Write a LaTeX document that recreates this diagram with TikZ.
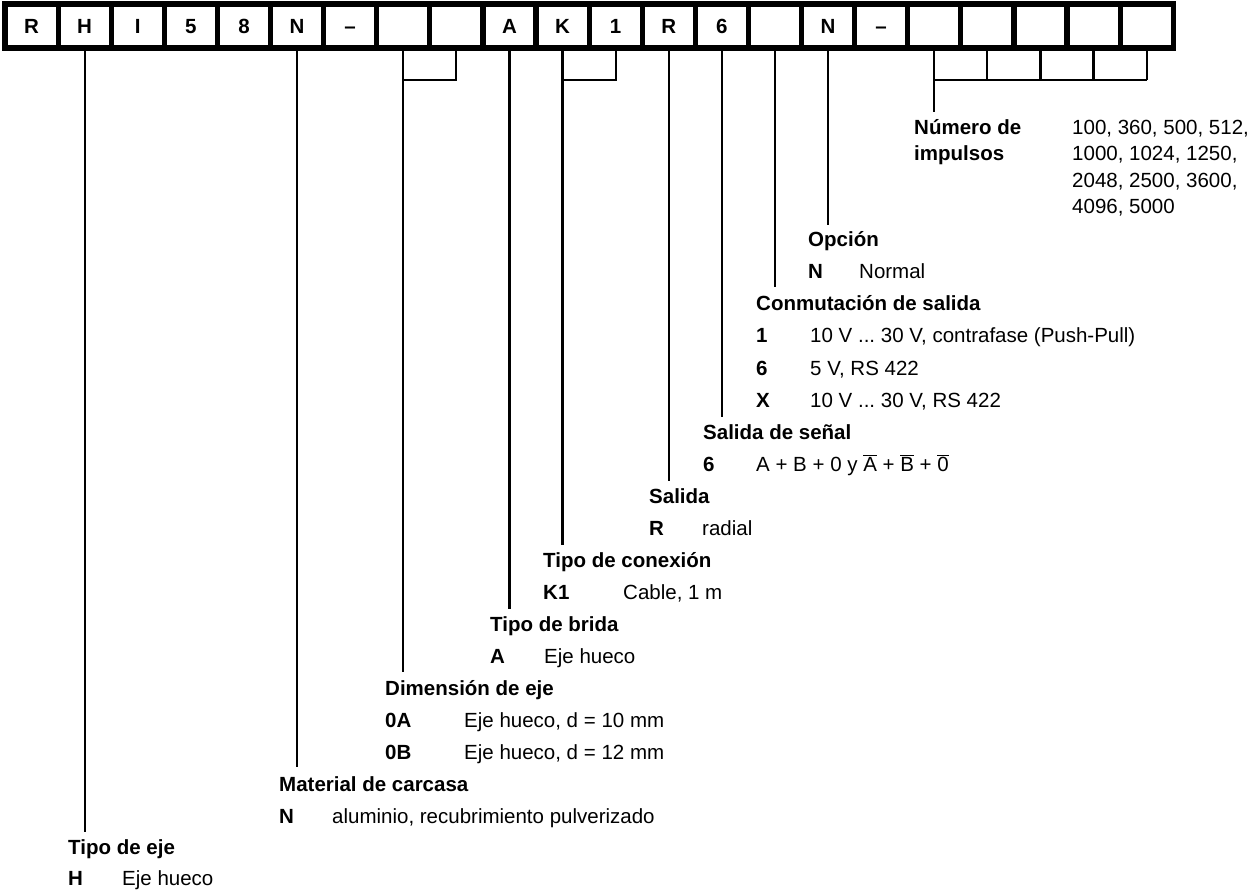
\documentclass[tikz,border=0pt]{standalone}
\usepackage{fontspec}
\setmainfont{Liberation Sans}
\frenchspacing
\newcommand{\ovl}[1]{$\overline{\hbox{#1}}$}
\begin{document}
\begin{tikzpicture}[x=1pt,y=-1pt,
  cell/.style={draw, line width=5.2pt, minimum width=53.1pt, minimum height=44pt, inner sep=0pt,
    font=\fontsize{20.5}{24}\selectfont\bfseries, text height=14.7pt, text depth=0pt},
  txt/.style={anchor=base west, inner sep=0pt, font=\fontsize{20.5}{24}\selectfont\frenchspacing},
  hd/.style={anchor=base west, inner sep=0pt, font=\fontsize{20.5}{24}\selectfont\bfseries},
  conn/.style={line width=2.2pt}]
\useasboundingbox (0,0) rectangle (1250,890);
% code boxes
\foreach \t [count=\i from 0] in {R,H,I,5,8,N,–,{},{},A,K,1,R,6,{},N,–,{},{},{},{},{}}
  \node[cell] (c\i) at ({5+53.1*(\i+0.5)},26) {\t};
% connector end points
\coordinate (e1)  at ({5+53.1*1.5},832);
\coordinate (e5)  at ({5+53.1*5.5},767);
\coordinate (b7)  at ({5+53.1*7.5},80);
\coordinate (b8)  at ({5+53.1*8.5},80);
\coordinate (e7)  at ({5+53.1*7.5},672);
\coordinate (e9)  at ({5+53.1*9.5},609);
\coordinate (b10) at ({5+53.1*10.5},80);
\coordinate (b11) at ({5+53.1*11.5},80);
\coordinate (e10) at ({5+53.1*10.5},545);
\coordinate (e12) at ({5+53.1*12.5},481);
\coordinate (e13) at ({5+53.1*13.5},417);
\coordinate (e14) at ({5+53.1*14.5},287);
\coordinate (e15) at ({5+53.1*15.5},225);
\foreach \k in {17,...,21} \coordinate (b\k) at ({5+53.1*(\k+0.5)},80);
\coordinate (e17) at ({5+53.1*17.5},112);
% connectors
\draw[conn] (c1.south) -- (e1);
\draw[conn] (c5.south) -- (e5);
\draw[conn] (c8.south) -- (b8) -- (b7);
\draw[conn] (c7.south) -- (e7);
\draw[conn] (c9.south) -- (e9);
\draw[conn] (c11.south) -- (b11) -- (b10);
\draw[conn] (c10.south) -- (e10);
\draw[conn] (c12.south) -- (e12);
\draw[conn] (c13.south) -- (e13);
\draw[conn] (c14.south) -- (e14);
\draw[conn] (c15.south) -- (e15);
\foreach \k in {18,...,21} \draw[conn] (c\k.south) -- (b\k);
\draw[conn] (b21) -- (b17);
\draw[conn] (c17.south) -- (e17);
% Numero de impulsos
\node[hd] (ni1) at (914,134.5) {Número de};
\node[hd] (ni2) at (914,161) {impulsos};
\node[txt] (niv1) at (1072,134.5) {100, 360, 500, 512,};
\node[txt] (niv2) at (1072,161) {1000, 1024, 1250,};
\node[txt] (niv3) at (1072,187.5) {2048, 2500, 3600,};
\node[txt] (niv4) at (1072,214) {4096, 5000};
% Opcion
\node[hd] (op) at (808,247) {Opción};
\node[hd] (opN) at (808,279) {N};
\node[txt] (opNv) at (859,279) {Normal};
% Conmutacion
\node[hd] (cs) at (756,311) {Conmutación de salida};
\node[hd] (cs1) at (756,343) {1};
\node[txt] (cs1v) at (810,343) {10 V ... 30 V, contrafase (Push-Pull)};
\node[hd] (cs6) at (756,375) {6};
\node[txt] (cs6v) at (810,375) {5 V, RS 422};
\node[hd] (csX) at (756,407) {X};
\node[txt] (csXv) at (810,407) {10 V ... 30 V, RS 422};
% Salida de senal
\node[hd] (ss) at (703,439) {Salida de señal};
\node[hd] (ss6) at (703,471) {6};
\node[txt] (ss6v) at (756,471) {A + B + 0 y \ovl{A} + \ovl{B} + \ovl{0}};
% Salida
\node[hd] (sa) at (649,503) {Salida};
\node[hd] (saR) at (649,535) {R};
\node[txt] (saRv) at (702,535) {radial};
% Tipo de conexion
\node[hd] (tc) at (543,567) {Tipo de conexión};
\node[hd] (tcK) at (543,599) {K1};
\node[txt] (tcKv) at (623,599) {Cable, 1 m};
% Tipo de brida
\node[hd] (tb) at (490,631) {Tipo de brida};
\node[hd] (tbA) at (490,663) {A};
\node[txt] (tbAv) at (544,663) {Eje hueco};
% Dimension de eje
\node[hd] (de) at (385,695) {Dimensión de eje};
\node[hd] (deA) at (385,727) {0A};
\node[txt] (deAv) at (464,727) {Eje hueco, d = 10 mm};
\node[hd] (deB) at (385,759) {0B};
\node[txt] (deBv) at (464,759) {Eje hueco, d = 12 mm};
% Material de carcasa
\node[hd] (mc) at (279,791) {Material de carcasa};
\node[hd] (mcN) at (279,823) {N};
\node[txt] (mcNv) at (332,823) {aluminio, recubrimiento pulverizado};
% Tipo de eje
\node[hd] (te) at (68,854) {Tipo de eje};
\node[hd] (teH) at (68,885) {H};
\node[txt] (teHv) at (122,885) {Eje hueco};
\end{tikzpicture}
\end{document}
